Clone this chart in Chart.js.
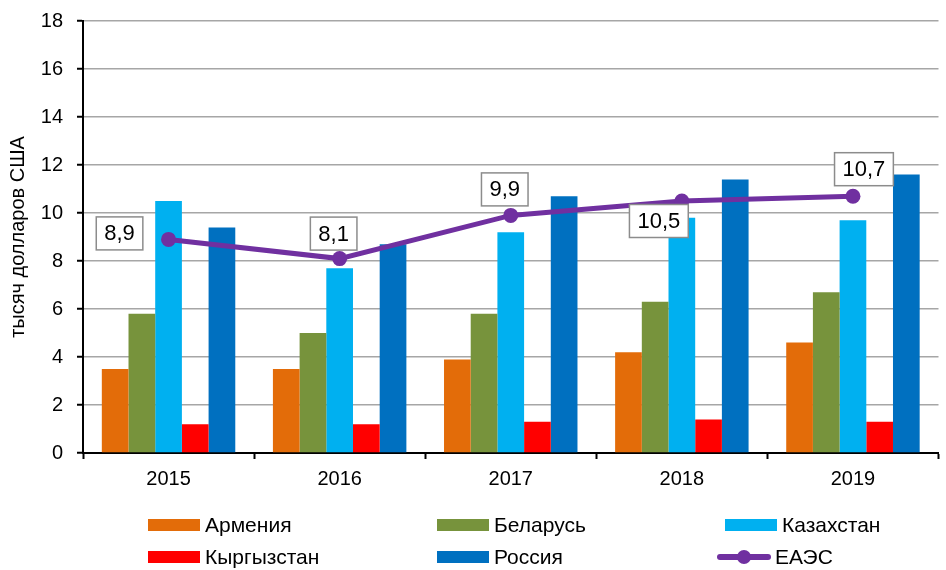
<!DOCTYPE html>
<html lang="ru">
<head>
    <meta charset="UTF-8">
    <title>ВВП на душу населения</title>
    <script src="https://cdn.jsdelivr.net/npm/chart.js"></script>
    <style>
        body { margin: 0; background: #fff; font-family: "Liberation Sans", Arial, sans-serif; }
        .wrap { position: relative; width: 946px; height: 570px; }
        .legend { position: absolute; left: 0; top: 0; width: 946px; height: 570px; pointer-events: none; }
        .item { position: absolute; display: flex; align-items: center; font-size: 21px; color: #000; }
        .sw { width: 52px; height: 12px; margin-right: 5px; }
        .ln { position: relative; width: 54px; height: 14px; margin-right: 4px; }
        .ln .bar { position: absolute; left: 0; right: 0; top: 4px; height: 6px; border-radius: 3px; }
        .ln .dot { position: absolute; left: 20px; top: 0; width: 14px; height: 14px; border-radius: 50%; }
    </style>
</head>
<body>
<div class="wrap">
    <canvas id="chart" width="946" height="570"></canvas>
    <div class="legend" id="legend"></div>
</div>
<script>
// данные
const years = ['2015', '2016', '2017', '2018', '2019'];
const armenia    = [3.5, 3.5, 3.9, 4.2, 4.6];
const belarus    = [5.8, 5.0, 5.8, 6.3, 6.7];
const kazakhstan = [10.5, 7.7, 9.2, 9.8, 9.7];
const kyrgyzstan = [1.2, 1.2, 1.3, 1.4, 1.3];
const russia     = [9.4, 8.7, 10.7, 11.4, 11.6];
const eaeu       = [8.9, 8.1, 9.9, 10.5, 10.7];
const eaeuLabels = ['8,9', '8,1', '9,9', '10,5', '10,7'];

// смещения подписей от точки (центр рамки)
const labelOffsets = [[-49, -6], [-6, -25], [-6, -26], [-23, 20], [11, -27]];

const FONT = '"Liberation Sans", Arial, sans-serif';

const boxLabels = {
    id: 'boxLabels',
    afterDatasetsDraw(chart) {
        const meta = chart.getDatasetMeta(5);
        const ctx = chart.ctx;
        ctx.save();
        ctx.font = '22px ' + FONT;
        ctx.textAlign = 'center';
        ctx.textBaseline = 'middle';
        meta.data.forEach((pt, i) => {
            const txt = eaeuLabels[i];
            const w = ctx.measureText(txt).width + 16;
            const h = 33;
            const cx = pt.x + labelOffsets[i][0];
            const cy = pt.y + labelOffsets[i][1];
            ctx.fillStyle = '#fff';
            ctx.fillRect(cx - w / 2, cy - h / 2, w, h);
            ctx.strokeStyle = '#8c8c8c';
            ctx.lineWidth = 1.5;
            ctx.strokeRect(cx - w / 2, cy - h / 2, w, h);
            ctx.fillStyle = '#000';
            ctx.fillText(txt, cx, cy + 1);
        });
        ctx.restore();
    }
};

const datasets = [
    { type: 'bar', label: 'Армения', data: armenia, backgroundColor: '#E36C09', order: 2 },
    { type: 'bar', label: 'Беларусь', data: belarus, backgroundColor: '#77933C', order: 2 },
    { type: 'bar', label: 'Казахстан', data: kazakhstan, backgroundColor: '#00B0F0', order: 2 },
    { type: 'bar', label: 'Кыргызстан', data: kyrgyzstan, backgroundColor: '#FF0000', order: 2 },
    { type: 'bar', label: 'Россия', data: russia, backgroundColor: '#0070C0', order: 2 },
    { type: 'line', label: 'ЕАЭС', data: eaeu, borderColor: '#7030A0', backgroundColor: '#7030A0',
      borderWidth: 5, pointRadius: 7.5, pointBackgroundColor: '#7030A0', pointBorderWidth: 0,
      tension: 0, order: 0 }
];

new Chart(document.getElementById('chart'), {
    data: { labels: years, datasets: datasets },
    options: {
        responsive: false,
        animation: false,
        layout: { padding: { top: 21, right: 6, bottom: 77, left: 0 } },
        datasets: { bar: { categoryPercentage: 0.78, barPercentage: 1.0 } },
        plugins: { legend: { display: false }, tooltip: { enabled: false } },
        scales: {
            x: {
                offset: true,
                grid: { offset: true, drawOnChartArea: false, tickColor: '#000', tickLength: 6, tickWidth: 2 },
                border: { color: '#000', width: 2 },
                ticks: { color: '#000', font: { family: FONT, size: 20 }, padding: 8 },
                afterFit(s) { s.height = 40; }
            },
            y: {
                min: 0, max: 18,
                ticks: { stepSize: 2, color: '#000', font: { family: FONT, size: 20 }, padding: 14 },
                grid: { color: '#a6a6a6', lineWidth: 1.5, tickColor: '#000', tickLength: 6, tickWidth: 2 },
                border: { color: '#000', width: 2 },
                title: { display: true, text: 'тысяч долларов США', color: '#000',
                         font: { family: FONT, size: 20 }, padding: { top: 6, bottom: 0 } },
                afterFit(s) { s.width = 83; s.paddingTop = 10; s.paddingBottom = 10; }
            }
        }
    },
    plugins: [boxLabels]
});

// легенда
const legendPos = [[148, 525], [437, 525], [725, 525], [148, 557], [437, 557], [717, 557]];
const legendEl = document.getElementById('legend');
datasets.forEach((ds, i) => {
    const item = document.createElement('div');
    item.className = 'item';
    item.style.left = legendPos[i][0] + 'px';
    item.style.top = (legendPos[i][1] - 12) + 'px';
    item.style.height = '24px';
    let mark;
    if (ds.type === 'line') {
        mark = document.createElement('div');
        mark.className = 'ln';
        mark.innerHTML = '<div class="bar"></div><div class="dot"></div>';
        mark.querySelector('.bar').style.background = ds.borderColor;
        mark.querySelector('.dot').style.background = ds.borderColor;
    } else {
        mark = document.createElement('div');
        mark.className = 'sw';
        mark.style.background = ds.backgroundColor;
    }
    item.appendChild(mark);
    item.appendChild(document.createTextNode(ds.label));
    legendEl.appendChild(item);
});
</script>
</body>
</html>
